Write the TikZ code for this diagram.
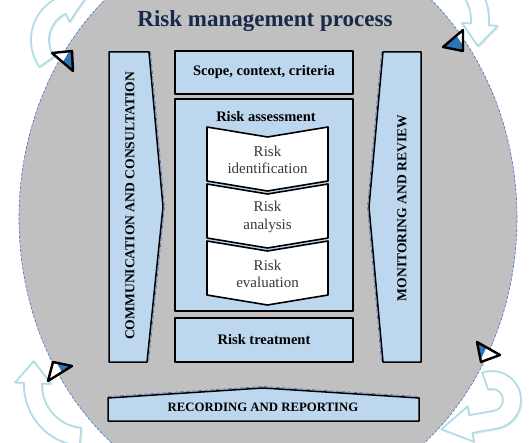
\documentclass[tikz,border=0pt]{standalone}
\usepackage{xcolor}
\usepackage{fontspec}
\setmainfont{Liberation Serif}
\definecolor{rmgray}{RGB}{192,192,192}
\definecolor{rmblue}{RGB}{189,215,238}
\definecolor{rmedge}{RGB}{68,114,196}
\definecolor{rmcone}{RGB}{46,117,182}
\definecolor{rmnavy}{RGB}{24,42,74}
\definecolor{rmcyan}{RGB}{176,222,228}
\definecolor{rmtext}{RGB}{56,56,56}
\usetikzlibrary{calc,shadows}

% curved turning arrow: centre x, centre y, radius, tail angle, head angle, straight part, head length
\newcommand{\turnarrow}[7]{%
  \draw[turn] ($(#1,#2)+(#4:{#3+9})$) arc[start angle=#4, end angle=#5, radius=#3+9]
    -- ($(#1,#2)+(#5:{#3+9})+({#6*sin(#5)},{-#6*cos(#5)})$)
    -- ($(#1,#2)+(#5:{#3+18})+({#6*sin(#5)},{-#6*cos(#5)})$)
    -- ($(#1,#2)+(#5:#3)+({(#6+#7)*sin(#5)},{-(#6+#7)*cos(#5)})$)
    -- ($(#1,#2)+(#5:{#3-18})+({#6*sin(#5)},{-#6*cos(#5)})$)
    -- ($(#1,#2)+(#5:{#3-9})+({#6*sin(#5)},{-#6*cos(#5)})$)
    -- ($(#1,#2)+(#5:{#3-9})$)
    arc[start angle=#5, end angle=#4, radius=#3-9] -- cycle;}

\begin{document}
\begin{tikzpicture}[x=1pt,y=1pt,line join=round,
    panel/.style={draw=black,line width=1.5pt,fill=rmblue},
    box/.style={draw=black,line width=2pt,fill=rmblue},
    edgedash/.style={draw=rmedge,line width=0.7pt,dash pattern=on 4pt off 2pt},
    turn/.style={draw=rmcyan,line width=1.8pt,fill=white,
      drop shadow={opacity=0.15,shadow xshift=1.5pt,shadow yshift=-1.5pt}},
    chev/.style={draw=black,line width=1.6pt,fill=white},
    boxtext/.style={font=\fontsize{14.5}{16}\selectfont\bfseries},
    captext/.style={font=\fontsize{13.6}{15}\selectfont\bfseries,rotate=90},
    chevtext/.style={font=\fontsize{15}{17.5}\selectfont,text=rmtext,align=center}]
  \useasboundingbox (0,0) rectangle (530,442);
  \clip (0,0) rectangle (530,442);
  % backdrop
  \draw[fill=rmgray,draw=rmedge,line width=0.6pt,dash pattern=on 3pt off 1.5pt] (268,224) ellipse [x radius=249, y radius=289];
  % turning arrows
  \turnarrow{78}{402}{38}{215}{115}{0}{30}
  \turnarrow{430}{422}{50}{50}{-5}{0}{22}
  \turnarrow{85}{57}{52}{265}{178}{0}{22}
  \turnarrow{492}{42}{20}{110}{-80}{25}{30}
  % cones on the rim
  \foreach \a/\b/\c in {{(52,389)}/{(72,391)}/{(73,371)},{(443,395)}/{(463,412)}/{(463,391)},
                        {(53,80)}/{(72,76)}/{(48,61)},{(477,100)}/{(500,87)}/{(481,80)}}{
    \fill[white] \a -- \b -- \c -- cycle;
    \begin{scope}
      \clip (268,224) ellipse [x radius=245, y radius=285];
      \fill[rmcone] \a -- \b -- \c -- cycle;
    \end{scope}
    \draw[black,line width=2.4pt] \a -- \b -- \c -- cycle;
  }
  \node[font=\fontsize{23}{26}\selectfont\bfseries,text=rmnavy] (title) at (265,421) {Risk management process};
  % side and bottom bands
  \draw[panel] (109,390) -- (149,390) -- (163,235) -- (147,80) -- (109,80) -- cycle;
  \draw[edgedash] (150.5,390) -- (164.5,235) -- (148.5,80);
  \draw[panel] (383,390) -- (421,390) -- (421,80) -- (383,80) -- (369,235) -- cycle;
  \draw[edgedash] (381.5,390) -- (367.5,235) -- (381.5,80);
  \draw[panel] (108,21) -- (108,44) -- (263,54) -- (419,44) -- (419,21) -- cycle;
  \draw[edgedash] (108,45.5) -- (263,55.5) -- (419,45.5);
  \node[captext] (comm) at (130,236) {COMMUNICATION AND CONSULTATION};
  \node[captext] (monitor) at (402,234) {MONITORING AND REVIEW};
  \node[boxtext,font=\fontsize{12.8}{14}\selectfont\bfseries] (record) at (263,35) {RECORDING AND REPORTING};
  % centre column
  \node[box,boxtext,minimum width=178pt,minimum height=43pt] (scope) at (264,369.5) {Scope, context, criteria};
  \node[box,minimum width=178pt,minimum height=212pt] (assess) at (264,237) {};
  \node[boxtext] (assesstitle) at (266,325) {Risk assessment};
  \foreach \t/\nm/\txt in {127/ident/{Risk\\identification},184/anal/{Risk\\analysis},241/eval/{Risk\\evaluation}}{
    \draw[chev] (207,442-\t) -- (267.5,432-\t) -- (328,442-\t) -- (328,388-\t) -- (267.5,378-\t) -- (207,388-\t) -- cycle;
    \node[chevtext] (\nm) at (267.5,409-\t) {\txt};
  }
  \node[box,boxtext,minimum width=178pt,minimum height=44pt] (treat) at (264,102) {Risk treatment};
\end{tikzpicture}
\end{document}
